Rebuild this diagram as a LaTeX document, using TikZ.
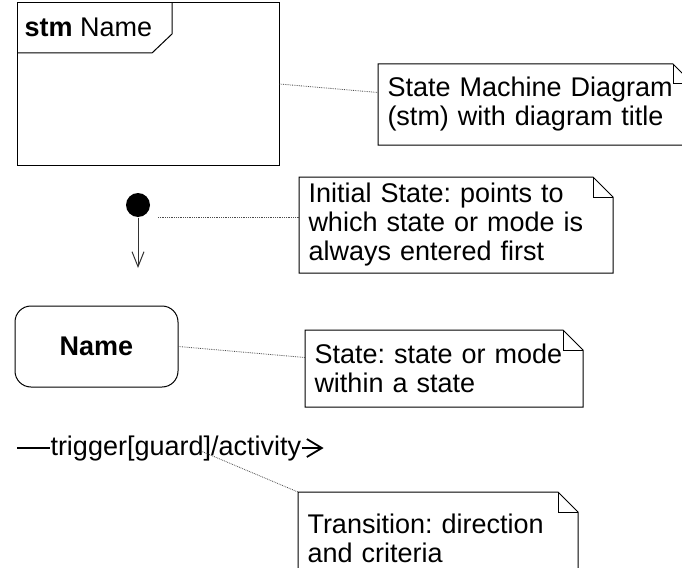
\documentclass[tikz,border=0pt]{standalone}
\usepackage{fontspec}
\setmainfont{Liberation Sans}
\usetikzlibrary{arrows.meta,positioning,calc}

\begin{document}
\frenchspacing
\begin{tikzpicture}[
  x=1pt, y=-1pt,
  font=\fontsize{27}{29}\selectfont,
  line width=1pt,
  frame/.style={draw, minimum width=262pt, minimum height=162pt, inner sep=0pt},
  initial/.style={circle, fill=black, minimum size=24pt, inner sep=0pt},
  state/.style={draw, rounded corners=16pt, minimum width=163pt,
    minimum height=81pt, font=\fontsize{27}{29}\selectfont\bfseries},
  note/.style={align=left, inner xsep=9pt, inner ysep=0pt, anchor=north west},
  anchorline/.style={densely dotted, line width=0.8pt, black!70},
  trans/.style={line width=1.8pt}
]
\useasboundingbox (0,0) rectangle (682,567);

% frame with title tab
\node[frame] (frame) at (148,84) {};
\draw (17,53) -- (152,53) -- (172,34) -- (172,3);
\node[anchor=base west, inner sep=0pt] (title) at (24,37) {\textbf{stm} Name};

% initial pseudo state
\node[initial] (init) at (138,205) {};
\coordinate (initend) at (138,268);
\draw[black!80, -{Straight Barb[length=15pt,width=12pt]}] (init) -- (initend);

% state
\node[state] (state) at (96.5,346.5) {Name};

% transition
\coordinate (tstart) at (17,448);
\node[anchor=base west, inner sep=0pt] (trig) at (50,455) {trigger[guard]/activity};
\coordinate[right=22pt of trig.east] (tend);
\draw[trans] (tstart) -- (tstart -| trig.west);
\draw[trans, -{Straight Barb[length=15pt,width=18pt]}] (trig.east) -- (tend);

% notes
\node[note, text width=296pt, minimum height=80pt] (n1) at (378,64)
  {State Machine Diagram\\(stm) with diagram title};
\node[note, text width=295pt, minimum height=95pt] (n2) at (299,177)
  {Initial State: points to\\which state or mode is\\always entered first};
\node[note, text width=259pt, minimum height=76pt] (n3) at (305,330)
  {State: state or mode\\within a state};
\node[note, text width=261pt, minimum height=92pt] (n4) at (298,492)
  {Transition: direction\\and criteria};

\foreach \n in {n1,n2,n3,n4} {
  \draw (\n.north west) -- ([xshift=-20pt]\n.north east)
    -- ([yshift=-20pt]\n.north east) -- (\n.south east)
    -- (\n.south west) -- cycle;
  \draw ([xshift=-20pt]\n.north east) |- ([yshift=-20pt]\n.north east);
}

\draw[anchorline] (frame.east) -- ([yshift=12pt]n1.west);
\draw[anchorline] ([xshift=20pt]init.south) -- ([yshift=7.5pt]n2.west);
\draw[anchorline] (state.east) -- ([yshift=11pt]n3.west);
\draw[anchorline] ([xshift=25pt,yshift=4pt]trig.base) -- (n4.north west);
\end{tikzpicture}
\end{document}
